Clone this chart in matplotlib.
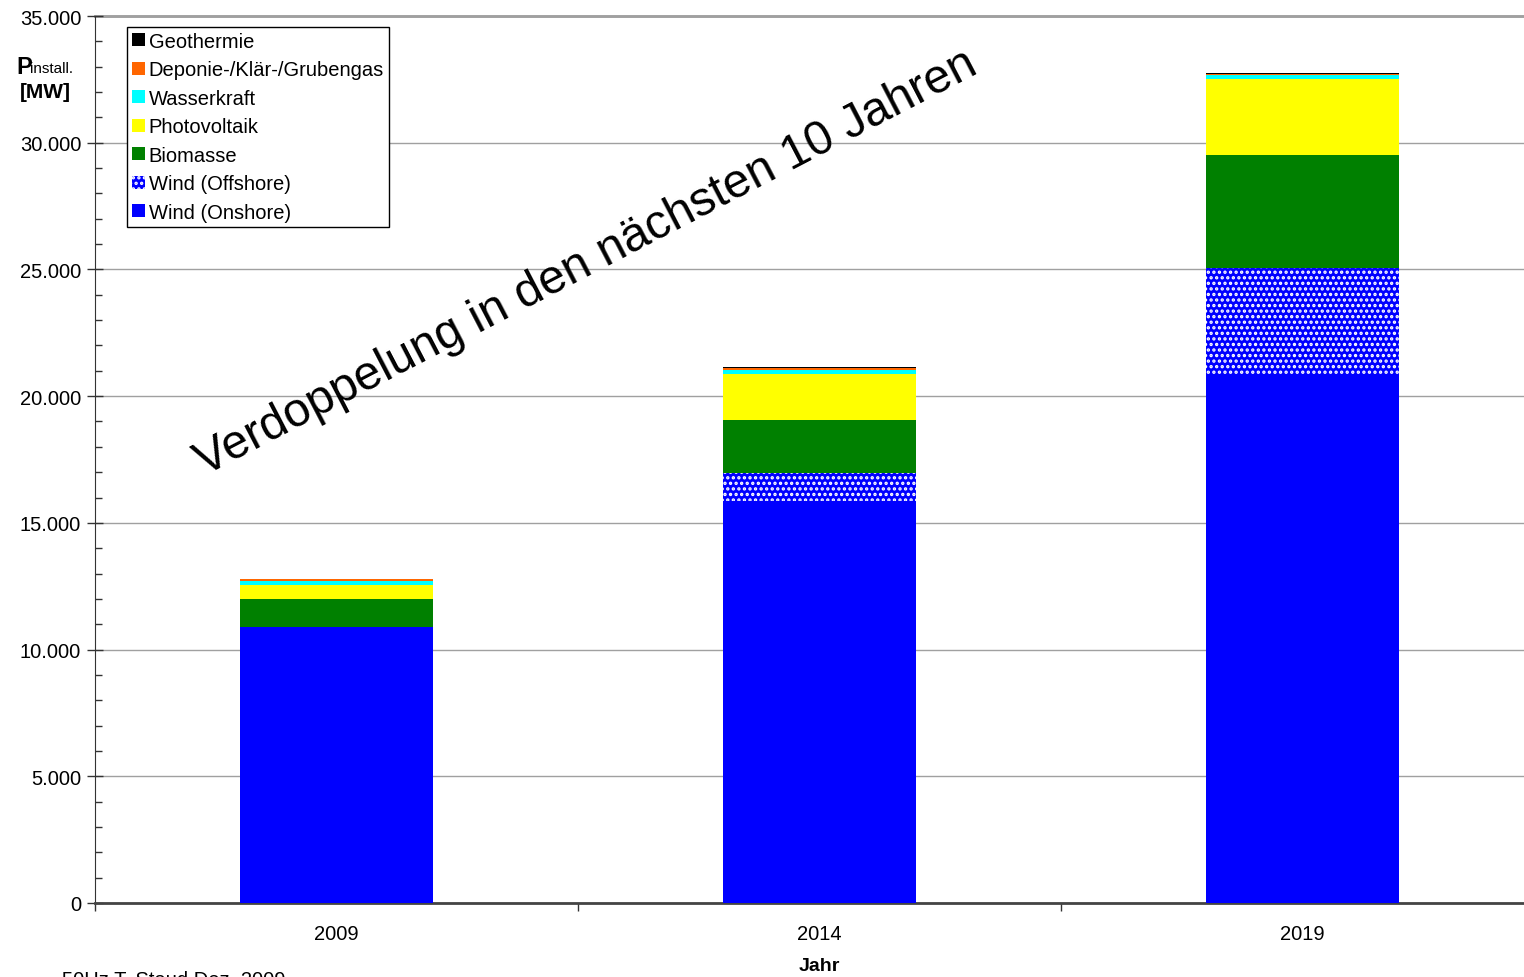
import numpy as np
import matplotlib
matplotlib.use('Agg')
import matplotlib.pyplot as plt
from matplotlib.patches import Patch
from matplotlib.ticker import MultipleLocator, FuncFormatter, FixedLocator

plt.rcParams['font.family'] = ['Liberation Sans', 'DejaVu Sans']
plt.rcParams['hatch.linewidth'] = 1.6

# installed capacity in MW per year
years = ['2009', '2014', '2019']
wind_onshore = [10890, 15860, 20880]
wind_offshore = [0, 1090, 4180]
biomasse = [1110, 2120, 4470]
photovoltaik = [550, 1810, 2990]
wasserkraft = [160, 160, 170]
grubengas = [80, 70, 30]
geothermie = [0, 50, 40]

series = [
    ('Wind (Onshore)', wind_onshore, '#0000ff', None),
    ('Wind (Offshore)', wind_offshore, '#0000ff', '...'),
    ('Biomasse', biomasse, '#008000', None),
    ('Photovoltaik', photovoltaik, '#ffff00', None),
    ('Wasserkraft', wasserkraft, '#00ffff', None),
    ('Deponie-/Klär-/Grubengas', grubengas, '#ff6600', None),
    ('Geothermie', geothermie, '#000000', None),
]

fig = plt.figure(figsize=(15.24, 9.78), dpi=100)
ax = fig.add_axes([95 / 1524, 74 / 978, 1449 / 1524, 887 / 978])

x = np.arange(len(years))
bottom = np.zeros(len(years))
handles = []
for name, vals, color, hatch in series:
    vals = np.array(vals, dtype=float)
    if hatch:
        ax.bar(x, vals, 0.4, bottom=bottom, color=color, edgecolor='white',
               linewidth=0, hatch=hatch, zorder=3)
        handles.append(Patch(facecolor=color, edgecolor='white', hatch=hatch, linewidth=0))
    else:
        ax.bar(x, vals, 0.4, bottom=bottom, color=color, linewidth=0, zorder=3)
        handles.append(Patch(facecolor=color, linewidth=0))
    bottom += vals

ax.set_xlim(-0.5, 2.5)
ax.set_ylim(0, 35000)

ax.yaxis.set_major_locator(MultipleLocator(5000))
ax.yaxis.set_minor_locator(MultipleLocator(1000))
ax.yaxis.set_major_formatter(FuncFormatter(lambda v, p: f'{int(v):,}'.replace(',', '.')))
ax.tick_params(axis='y', which='major', direction='inout', length=12, width=1,
               color='#333333', labelsize=14.5, pad=4)
ax.tick_params(axis='y', which='minor', direction='in', length=5, width=1, color='#333333')

ax.set_xticks(x)
ax.set_xticklabels(years)
ax.xaxis.set_minor_locator(FixedLocator([-0.5, 0.5, 1.5, 2.5]))
ax.tick_params(axis='x', which='major', length=0, labelsize=14.5, pad=15)
ax.tick_params(axis='x', which='minor', direction='out', length=6, width=1, color='#333333')

ax.grid(axis='y', which='major', color='#a0a0a0', linewidth=1, zorder=0)
for s in ['top', 'right']:
    ax.spines[s].set_visible(False)
ax.spines['left'].set_color('#333333')
ax.spines['bottom'].set_color('#444444')
ax.spines['bottom'].set_linewidth(2)
ax.axhline(35000, color='#999999', linewidth=2, zorder=1, clip_on=False)

leg = ax.legend(handles[::-1], [s[0] for s in series][::-1], loc='upper left',
                bbox_to_anchor=(0.0221, 0.9876), borderaxespad=0, fontsize=14.5,
                handlelength=0.62, handleheight=0.62, handletextpad=0.2,
                labelspacing=0.47, borderpad=0.25, fancybox=False, framealpha=1,
                edgecolor='black')
leg.get_frame().set_linewidth(1)
leg.set_zorder(5)

# axis titles
fig.text(16 / 1524, 1 - 68 / 978, 'P', fontsize=17, fontweight='bold', va='center', ha='left')
fig.text(30 / 1524, 1 - 69 / 978, 'install.', fontsize=11, va='center', ha='left')
fig.text(45 / 1524, 1 - 92 / 978, '[MW]', fontsize=15, fontweight='bold', va='center', ha='center')
fig.text(819 / 1524, 1 - 967 / 978, 'Jahr', fontsize=14, fontweight='bold', va='center', ha='center')
fig.text(62 / 1524, 1 - 971 / 978, '50Hz T. Staud Dez. 2009', fontsize=14.5, va='top', ha='left')

fig.text(586 / 1524, 1 - 263 / 978, 'Verdoppelung in den nächsten 10 Jahren',
         fontsize=34.5, rotation=27.5, rotation_mode='anchor', ha='center', va='center')

fig.savefig('out.png', dpi=100)
